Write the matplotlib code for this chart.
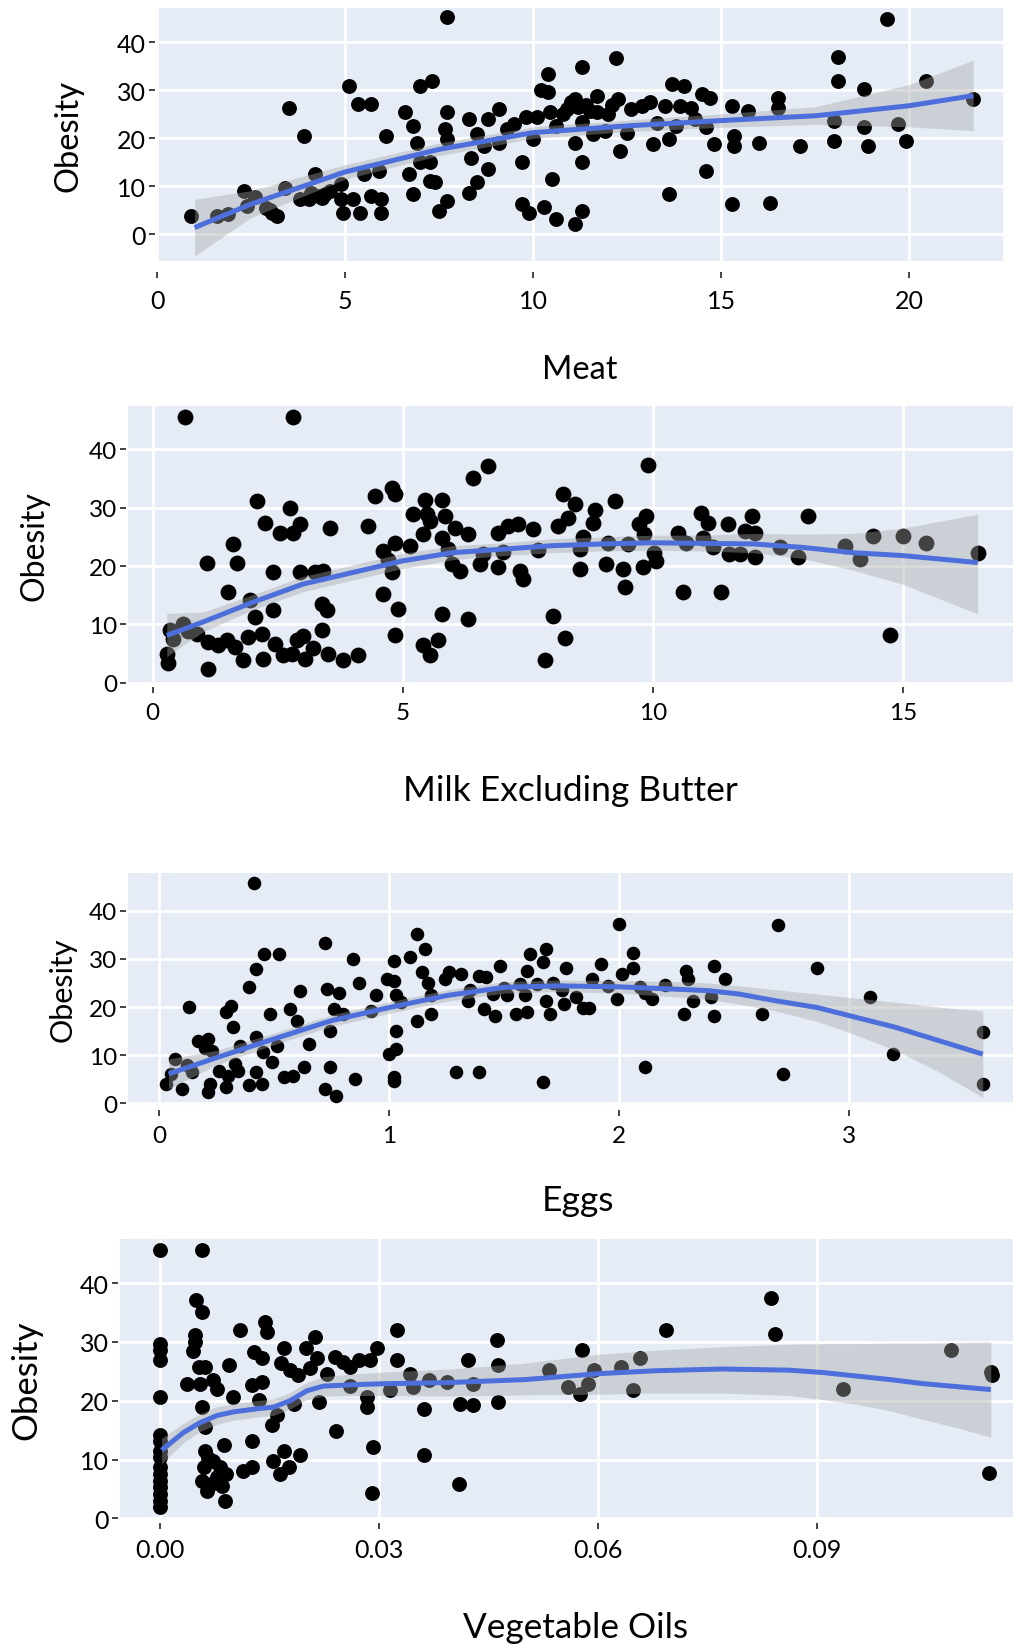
'''scatter plots of obesity against food supply, with smoothed fits'''
import matplotlib
matplotlib.use('Agg')
import matplotlib.pyplot as plt
import numpy as np

plt.rcParams['font.family'] = ['Lato', 'DejaVu Sans']

# ---- Meat ----
meat_x = [0.9, 1.6, 2.3, 2.4, 2.9, 3.06, 3.2, 3.4, 3.5, 3.9, 3.8, 4.05, 4.2, 4.3, 4.46, 4.1, 4.9, 4.9,
          4.95, 5.1, 5.2, 5.4, 5.35, 5.7, 5.5, 5.7, 5.95, 5.95, 5.9, 6.1, 6.6, 6.7, 6.8, 6.8, 6.9, 7.0,
          7.3, 7.0, 7.25, 7.25, 7.4, 7.5, 7.7, 7.7, 7.7, 7.65, 7.7, 8.3, 8.35, 8.3, 8.5, 8.5, 8.8, 8.8,
          8.7, 9.1, 9.1, 9.5, 9.7, 9.7, 9.9, 9.8, 10.0, 10.1, 10.2, 10.4, 10.4, 10.3, 10.5, 10.6, 11.1,
          10.45, 10.8, 11.0, 11.1, 11.1, 11.3, 11.3, 11.3, 12.2, 11.7, 11.7, 11.6, 12.25, 12.3, 12.5,
          12.6, 12.9, 13.2, 13.3, 13.5, 13.6, 13.6, 13.7, 14.0, 13.8, 13.9, 14.2, 14.5, 14.7, 14.6,
          14.8, 14.6, 15.3, 15.35, 15.35, 15.3, 15.7, 16.0, 16.3, 16.5, 16.5, 17.1, 18.0, 18.0, 18.1,
          18.1, 18.8, 18.8, 18.9, 19.4, 19.7, 19.9, 20.45, 21.7, 11.2, 11.4, 11.5, 10.9, 11.3, 12.0,
          12.1, 4.4, 4.6, 3.0, 2.6, 1.9, 10.6, 9.3, 11.9, 14.3, 13.1]
meat_y = [3.8, 3.8, 9.0, 5.9, 5.5, 4.5, 3.8, 9.7, 26.4, 20.5, 7.3, 7.3, 12.5, 8.0, 8.4, 8.7, 10.4, 7.3,
          4.5, 31.0, 7.3, 4.5, 27.1, 27.1, 12.5, 8.0, 7.3, 4.5, 13.2, 20.5, 25.4, 12.5, 8.4, 22.6, 19.1,
          31.0, 32.0, 15.0, 15.0, 11.1, 10.8, 4.9, 7.0, 45.2, 25.4, 21.9, 19.8, 24.0, 16.0, 8.7, 10.8,
          20.9, 24.0, 13.6, 18.4, 26.1, 19.1, 23.0, 15.0, 6.3, 4.5, 24.4, 19.8, 24.4, 30.0, 29.6, 33.4,
          5.6, 11.5, 3.1, 2.1, 25.4, 25.0, 27.5, 28.2, 19.1, 34.8, 15.0, 4.9, 36.7, 28.9, 25.4, 20.9,
          28.2, 17.4, 21.2, 26.1, 26.8, 18.8, 23.3, 26.8, 19.8, 8.4, 31.3, 31.0, 22.6, 26.8, 26.4, 29.2,
          28.5, 22.3, 18.8, 13.2, 26.8, 20.5, 18.4, 6.3, 25.7, 19.1, 6.6, 28.5, 26.4, 18.4, 23.7, 19.5,
          36.9, 32.0, 30.3, 22.3, 18.4, 44.9, 23.0, 19.5, 32.0, 28.2, 26.5, 27.0, 25.8, 26.2, 23.5,
          25.0, 27.0, 7.6, 9.0, 5.0, 7.8, 4.2, 22.5, 22.0, 21.5, 24.0, 27.5]
meat_fit_x = [1.0, 2.5, 5.0, 7.5, 10.0, 12.5, 15.0, 17.5, 20.0, 21.7]
meat_fit_y = [1.4, 6.3, 13.0, 17.7, 21.2, 22.6, 23.7, 24.7, 26.8, 28.9]
meat_fit_lo = [-4.5, 3.5, 11.5, 16.4, 20.0, 21.4, 22.3, 22.9, 22.4, 21.6]
meat_fit_hi = [7.3, 9.1, 14.5, 19.0, 22.4, 23.8, 25.1, 26.6, 31.2, 36.3]
meat_ticks = [0, 5, 10, 15, 20]

# ---- Milk Excluding Butter ----
milk_x = [0.65, 2.8, 0.31, 0.28, 0.35, 1.1, 1.1, 1.08, 0.6, 0.88, 1.48, 1.6, 1.68, 1.5, 1.65, 1.81, 1.9,
          1.95, 2.05, 2.08, 2.18, 2.2, 2.25, 2.4, 2.4, 2.45, 2.55, 2.75, 2.8, 2.95, 2.78, 2.88, 2.95, 3.05,
          3.2, 3.25, 3.4, 3.38, 3.48, 3.38, 3.5, 3.55, 3.8, 4.1, 4.3, 4.45, 4.6, 4.6, 4.78, 4.85, 4.85,
          4.78, 4.9, 4.85, 5.2, 5.15, 5.4, 5.45, 5.48, 5.55, 5.4, 5.55, 5.7, 5.78, 5.78, 5.78, 5.85, 5.98,
          6.05, 6.15, 6.3, 6.3, 6.4, 6.7, 6.55, 6.9, 6.9, 7.1, 7.3, 7.35, 7.4, 7.6, 7.85, 8.0, 8.2, 8.25,
          8.1, 8.3, 8.45, 8.55, 8.55, 8.85, 8.8, 9.07, 9.1, 9.25, 9.4, 9.44, 9.5, 9.8, 9.73, 9.87, 9.9,
          9.83, 10.03, 10.07, 10.5, 10.6, 10.66, 10.96, 11.1, 11.0, 11.2, 11.36, 11.5, 11.52, 11.75,
          11.85, 11.99, 12.05, 12.05, 12.55, 12.9, 13.1, 13.84, 14.14, 14.4, 14.74, 15.0, 15.46, 16.5,
          0.4, 0.7, 1.3, 2.6, 3.0, 4.7, 5.9, 6.6, 7.0, 7.7, 8.6]
milk_y = [45.5, 45.5, 3.3, 5.0, 9.0, 2.4, 7.0, 20.6, 10.1, 8.4, 7.3, 23.8, 20.6, 15.5, 6.1, 3.9, 7.8,
          14.1, 11.3, 31.1, 8.4, 4.1, 27.4, 18.9, 12.4, 6.7, 25.7, 30.0, 25.7, 27.2, 5.0, 7.3, 18.9, 4.1,
          5.9, 18.9, 19.2, 13.5, 12.4, 9.0, 5.0, 26.6, 3.9, 4.7, 26.9, 32.0, 22.6, 15.2, 33.4, 32.3, 24.0,
          18.9, 12.7, 8.1, 28.9, 23.5, 25.5, 31.4, 28.9, 27.7, 6.4, 4.7, 7.3, 31.4, 24.9, 11.8, 28.6, 20.3,
          26.6, 19.2, 25.5, 11.0, 35.1, 37.1, 20.3, 19.8, 25.7, 26.9, 27.2, 19.2, 17.8, 26.3, 3.9, 11.5,
          32.3, 7.6, 26.9, 28.3, 30.6, 19.5, 22.9, 29.7, 27.4, 20.3, 24.0, 31.1, 19.5, 16.4, 23.8, 19.8,
          27.2, 28.6, 37.4, 25.5, 22.3, 20.9, 25.7, 15.5, 24.0, 29.1, 27.4, 24.9, 23.2, 15.5, 27.2, 22.0,
          22.0, 26.0, 28.6, 25.7, 21.5, 23.2, 21.5, 28.6, 23.5, 21.2, 25.2, 8.1, 25.2, 24.0, 22.3,
          7.5, 8.8, 6.5, 4.8, 8.0, 21.0, 23.0, 22.0, 22.5, 22.8, 25.0]
milk_fit_x = [0.28, 1, 2, 3, 4, 5, 6, 7, 8, 9, 10, 11, 12, 13, 14, 15, 16.5]
milk_fit_y = [8.1, 10.4, 13.8, 16.9, 18.9, 20.9, 22.3, 22.9, 23.5, 23.8, 24.0, 23.9, 23.8, 23.2, 22.3,
              21.8, 20.6]
milk_fit_lo = [4.5, 8.7, 12.5, 15.6, 17.6, 19.6, 21.1, 21.8, 22.3, 22.6, 22.7, 22.6, 22.3, 21.3, 19.3,
               16.9, 11.8]
milk_fit_hi = [11.9, 12.1, 15.1, 18.2, 20.2, 22.2, 23.5, 24.0, 24.7, 25.0, 25.3, 25.3, 25.6, 25.5,
               25.6, 26.5, 28.9]
milk_ticks = [0, 5, 10, 15]

# ---- Eggs ----
eggs_x = [0.41, 0.03, 0.07, 0.10, 0.13, 0.14, 0.17, 0.21, 0.22, 0.21, 0.23, 0.26, 0.29, 0.30, 0.29,
          0.31, 0.32, 0.33, 0.34, 0.39, 0.39, 0.42, 0.42, 0.42, 0.45, 0.445, 0.455, 0.52, 0.48, 0.49,
          0.51, 0.54, 0.58, 0.57, 0.61, 0.63, 0.65, 0.72, 0.73, 0.74, 0.74, 0.72, 0.77, 0.78, 0.76,
          0.84, 0.85, 0.87, 0.92, 0.94, 0.99, 1.0, 1.02, 1.02, 1.02, 1.03, 1.03, 1.02, 1.03, 1.09, 1.12,
          1.12, 1.14, 1.155, 1.17, 1.18, 1.18, 1.24, 1.26, 1.29, 1.31, 1.34, 1.39, 1.39, 1.41, 1.42,
          1.46, 1.48, 1.45, 1.51, 1.55, 1.57, 1.59, 1.60, 1.61, 1.60, 1.64, 1.68, 1.67, 1.68, 1.70,
          1.67, 1.71, 1.76, 1.77, 1.81, 1.84, 1.87, 1.88, 1.92, 1.95, 1.99, 2.0, 2.01, 2.06, 2.06,
          2.09, 2.11, 2.11, 2.14, 2.28, 2.29, 2.30, 2.32, 2.40, 2.41, 2.41, 2.46, 2.62, 2.69, 2.71,
          2.86, 3.09, 3.19, 3.58, 3.58, 0.05, 0.12, 0.2, 0.35, 0.6, 0.8, 1.05, 1.35, 1.5, 1.75, 2.2]
eggs_y = [45.7, 4.0, 9.2, 3.0, 20.1, 6.4, 13.0, 13.4, 4.0, 2.3, 10.9, 6.8, 3.3, 5.7, 18.9, 20.3, 15.8,
          8.2, 6.8, 24.1, 3.7, 27.9, 13.7, 6.4, 10.6, 4.0, 31.1, 31.0, 18.5, 8.5, 12.0, 5.4, 5.7, 19.6,
          23.4, 7.5, 12.3, 33.4, 23.7, 7.5, 15.1, 3.0, 1.6, 23.0, 19.6, 30.0, 5.0, 25.1, 19.2, 22.4,
          25.8, 10.2, 5.4, 4.7, 29.6, 15.1, 11.3, 25.5, 22.4, 30.3, 35.2, 17.2, 27.2, 32.0, 25.1, 18.5,
          22.4, 25.8, 27.2, 6.4, 26.9, 21.3, 6.4, 26.5, 19.6, 26.2, 18.2, 28.6, 22.7, 22.4, 18.5, 24.8,
          22.4, 18.9, 31.0, 27.5, 24.8, 32.0, 29.3, 21.3, 18.5, 4.4, 25.1, 20.6, 28.2, 22.0, 19.9, 19.9,
          25.8, 28.9, 24.4, 21.7, 37.2, 26.9, 31.3, 28.2, 24.1, 23.0, 7.5, 21.7, 18.5, 27.5, 25.8, 21.3,
          22.0, 18.2, 28.6, 25.8, 18.5, 37.0, 6.1, 28.2, 22.1, 10.2, 14.9, 3.9, 6.0, 8.0, 11.5, 12.0,
          17.0, 18.5, 21.0, 23.5, 24.0, 23.5, 24.5]
eggs_fit_x = [0.04, 0.25, 0.5, 0.75, 1.0, 1.25, 1.5, 1.73, 2.0, 2.25, 2.39, 2.52, 2.68, 2.86, 3.0,
              3.2, 3.39, 3.58]
eggs_fit_y = [6.1, 9.5, 13.4, 17.2, 19.9, 22.4, 24.1, 24.4, 24.2, 23.7, 23.4, 22.7, 21.3, 19.9, 18.2,
              15.8, 13.0, 10.2]
eggs_fit_lo = [3.0, 8.0, 12.2, 16.0, 18.7, 21.2, 22.9, 23.2, 22.9, 22.1, 21.6, 20.6, 19.2, 17.0,
               14.7, 11.0, 6.5, 1.2]
eggs_fit_hi = [9.2, 11.0, 14.6, 18.4, 21.1, 23.6, 25.3, 25.6, 25.5, 25.3, 25.0, 24.4, 23.6, 22.7,
               22.0, 21.0, 20.0, 19.2]
eggs_ticks = [0, 1, 2, 3]

# ---- Vegetable Oils ----
oils_x = [0, 0, 0, 0, 0, 0, 0, 0, 0, 0, 0, 0, 0, 0, 0.0058, 0.0049, 0.0057, 0.0048, 0.0048, 0.0053,
          0.0062, 0.0037, 0.0055, 0.0057, 0.0062, 0.0062, 0.006, 0.0057, 0.0064, 0.0073, 0.0078, 0.0073,
          0.0078, 0.0082, 0.0087, 0.0089, 0.009, 0.01, 0.011, 0.0114, 0.0126, 0.0128, 0.0126, 0.0126,
          0.0139, 0.0139, 0.0144, 0.0146, 0.0153, 0.0155, 0.016, 0.0164, 0.0169, 0.0169, 0.0176, 0.0178,
          0.0183, 0.0189, 0.0192, 0.02, 0.0212, 0.0215, 0.0217, 0.0228, 0.024, 0.0241, 0.0251, 0.026,
          0.0272, 0.0283, 0.0283, 0.0288, 0.0292, 0.029, 0.0297, 0.0315, 0.0325, 0.0325, 0.0342, 0.0347,
          0.0361, 0.0361, 0.0368, 0.0393, 0.041, 0.0411, 0.0422, 0.0429, 0.0429, 0.0462, 0.0463, 0.0463,
          0.0533, 0.0559, 0.0575, 0.0578, 0.0595, 0.0586, 0.0632, 0.0648, 0.0658, 0.0693, 0.0837,
          0.0843, 0.0935, 0.1084, 0.1138, 0.114, 0.1136, 0.0, 0.0, 0.0066, 0.007, 0.0085, 0.0045,
          0.0095, 0.0165, 0.0135, 0.0205, 0.026]
oils_y = [45.6, 29.7, 28.6, 26.9, 20.6, 14.1, 13.2, 8.7, 7.6, 6.4, 5.3, 4.1, 3.0, 1.9, 45.6, 37.1, 35.1,
          31.1, 30.0, 25.7, 25.7, 22.9, 22.9, 18.9, 15.5, 11.5, 8.7, 6.4, 4.7, 23.5, 22.0, 9.8, 7.0, 8.7,
          12.4, 3.0, 7.6, 20.6, 32.0, 8.1, 13.2, 28.3, 22.6, 8.7, 27.2, 23.2, 33.4, 31.7, 15.8, 9.8, 17.5,
          7.6, 28.9, 11.5, 8.7, 25.2, 19.5, 24.3, 10.7, 28.9, 30.9, 27.2, 19.8, 24.6, 27.4, 14.9, 26.6,
          25.7, 26.9, 18.9, 20.6, 26.9, 12.1, 4.3, 28.9, 21.8, 32.1, 26.9, 24.6, 22.3, 18.6, 10.7, 23.5,
          23.2, 5.9, 19.5, 26.9, 19.2, 22.9, 30.3, 26.0, 19.8, 25.2, 22.3, 21.2, 28.6, 25.2, 22.9, 25.7,
          21.8, 27.3, 32.1, 37.4, 31.4, 22.0, 28.6, 24.9, 24.3, 7.7, 10.5, 11.5, 10.2, 5.8, 5.5, 28.5,
          26.0, 26.5, 20.2, 25.5, 22.5]
oils_fit_x = [0.0002, 0.0032, 0.0055, 0.0078, 0.01, 0.0137, 0.0155, 0.0178, 0.0201, 0.0224, 0.026,
              0.0306, 0.0397, 0.05, 0.06, 0.0678, 0.077, 0.0862, 0.0908, 0.0954, 0.1, 0.1046, 0.1092,
              0.1138]
oils_fit_y = [11.6, 14.6, 16.3, 17.5, 18.1, 18.7, 18.9, 20.0, 21.7, 22.5, 22.7, 22.9, 23.1, 23.6, 24.6,
              25.1, 25.4, 25.2, 24.8, 24.2, 23.6, 22.9, 22.4, 21.9]
oils_fit_lo = [9.3, 12.9, 14.8, 16.0, 16.7, 17.3, 17.5, 18.6, 20.2, 20.8, 20.9, 20.9, 20.8, 21.0,
               21.1, 21.3, 21.3, 20.9, 20.2, 19.4, 18.3, 16.8, 15.4, 13.8]
oils_fit_hi = [13.6, 16.2, 17.8, 19.0, 19.5, 20.1, 20.3, 21.4, 23.1, 24.1, 24.5, 24.9, 25.4, 26.4,
               27.9, 28.6, 29.2, 29.6, 29.7, 29.7, 29.8, 29.8, 29.9, 30.0]
oils_ticks = [0.0, 0.03, 0.06, 0.09]
oils_ticklabels = ['0.00', '0.03', '0.06', '0.09']

obesity_ticks = [0, 10, 20, 30, 40]

W, H = 1013, 1649
BG = '#E5ECF6'
LINE = '#4D6FDB'


def px_rect(left, top, right, bottom):
    '''pixel box -> figure fraction rect'''
    return [left / W, 1 - bottom / H, (right - left) / W, (bottom - top) / H]


def draw_panel(ax, x, y, fx, fy, flo, fhi, opts):
    '''one scatter panel with its smoothed fit'''
    ax.set_facecolor(BG)
    ax.scatter(x, y, s=opts['dot'], color='black', linewidths=0, zorder=2)
    ax.fill_between(fx, flo, fhi, color='#A6A6A6', alpha=0.4, linewidth=0, zorder=3)
    ax.plot(fx, fy, color=LINE, linewidth=3.6, solid_capstyle='butt', solid_joinstyle='round',
            zorder=4)

    ax.set_xlim(opts['xlim'])
    ax.set_ylim(opts['ylim'])
    ax.set_xticks(opts['xticks'])
    if 'xticklabels' in opts:
        ax.set_xticklabels(opts['xticklabels'])
    ax.set_yticks(obesity_ticks)
    ax.grid(True, color='white', linewidth=2.0)
    ax.set_axisbelow(True)

    for side in ['top', 'right', 'left', 'bottom']:
        ax.spines[side].set_visible(False)
    ax.spines['bottom'].set_position(('outward', opts['xgap']))
    ax.spines['left'].set_position(('outward', 1.5))
    ax.tick_params(axis='x', direction='out', length=4.5, width=1.2, color='#222222',
                   labelsize=opts['tick_fs'], pad=opts['xpad'])
    ax.tick_params(axis='y', direction='out', length=4.5, width=1.2, color='#222222',
                   labelsize=opts['tick_fs'], pad=2)

    ax.set_xlabel(opts['xlabel'], fontsize=opts['xlabel_fs'])
    ax.xaxis.set_label_coords(opts.get('xlabel_x', 0.5), opts['xlabel_y'])
    ax.xaxis.label.set_va('center')
    ax.set_ylabel('Obesity', fontsize=opts['ylabel_fs'])
    ax.yaxis.set_label_coords(opts['ylabel_x'], 0.5)
    ax.yaxis.label.set_va('center')


fig = plt.figure(figsize=(W / 100, H / 100), dpi=100)

ax1 = fig.add_axes(px_rect(157, 9.3, 1003.3, 261.7))
draw_panel(ax1, meat_x, meat_y, meat_fit_x, meat_fit_y, meat_fit_lo, meat_fit_hi,
           dict(dot=115, xlim=(0, 22.5), ylim=(-5.5, 47.1), xticks=meat_ticks, xgap=8, xpad=8,
                tick_fs=18, xlabel='Meat', xlabel_fs=23.5, xlabel_y=-0.429, ylabel_fs=23.5,
                ylabel_x=-0.105))

ax2 = fig.add_axes(px_rect(128.3, 407.3, 1012.7, 684))
draw_panel(ax2, milk_x, milk_y, milk_fit_x, milk_fit_y, milk_fit_lo, milk_fit_hi,
           dict(dot=130, xlim=(-0.49, 17.2), ylim=(-0.05, 47.4), xticks=milk_ticks, xgap=3, xpad=6,
                tick_fs=17.5, xlabel='Milk Excluding Butter', xlabel_fs=25.5, xlabel_y=-0.387,
                ylabel_fs=23, ylabel_x=-0.1066))

ax3 = fig.add_axes(px_rect(128.3, 874.3, 1012.7, 1105.7))
draw_panel(ax3, eggs_x, eggs_y, eggs_fit_x, eggs_fit_y, eggs_fit_lo, eggs_fit_hi,
           dict(dot=95, xlim=(-0.135, 3.71), ylim=(-0.3, 47.8), xticks=eggs_ticks, xgap=4, xpad=6,
                tick_fs=17.5, xlabel='Eggs', xlabel_fs=25.5, xlabel_x=0.508, xlabel_y=-0.412,
                ylabel_fs=22, ylabel_x=-0.0739))

ax4 = fig.add_axes(px_rect(120, 1240, 1012.7, 1520))
draw_panel(ax4, oils_x, oils_y, oils_fit_x, oils_fit_y, oils_fit_lo, oils_fit_hi,
           dict(dot=115, xlim=(-0.0055, 0.1168), ylim=(-0.1, 47.5), xticks=oils_ticks,
                xticklabels=oils_ticklabels, xgap=3, xpad=6, tick_fs=18, xlabel='Vegetable Oils',
                xlabel_fs=25.3, xlabel_x=0.51, xlabel_y=-0.386, ylabel_fs=25, ylabel_x=-0.1053))

fig.savefig('out.png', dpi=100)
